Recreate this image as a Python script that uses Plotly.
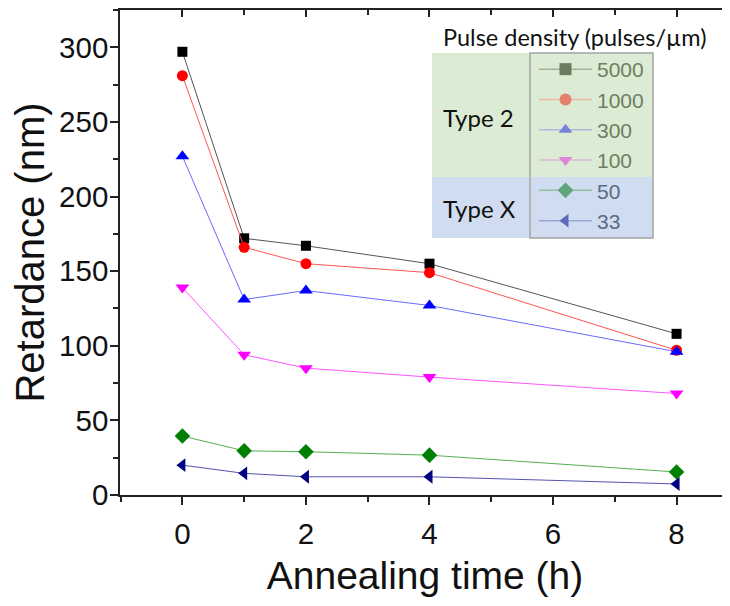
import plotly.graph_objects as go

# ---- data ----
time_h = [0, 1, 2, 4, 8]
densities = ["5000", "1000", "300", "100", "50", "33"]
retardance = {
    "5000": [297, 172, 167, 155, 108],
    "1000": [281, 166, 155, 149, 97],
    "300": [227, 131, 137, 127, 96],
    "100": [139, 94, 85, 79, 68],
    "50": [39.5, 29.6, 29, 26.7, 15.4],
    "33": [20, 14.5, 12.2, 12.2, 7.4],
}
group_labels = ["Type 2", "Type X"]
legend_title = "Pulse density (pulses/µm)"
x_title = "Annealing time (h)"
y_title = "Retardance (nm)"

# ---- styles ----
marker_sym = {"5000": "square", "1000": "circle", "300": "triangle-up",
              "100": "triangle-down", "50": "diamond", "33": "triangle-left"}
marker_size = {"5000": 10, "1000": 11, "300": 12, "100": 12, "50": 12, "33": 12}
mk_color = {"5000": "#000000", "1000": "#ff0000", "300": "#0000ff",
            "100": "#ff00ff", "50": "#008000", "33": "#000080"}
ln_color = {"5000": "#555555", "1000": "#ff5555", "300": "#6a6aff",
            "100": "#ff55ff", "50": "#55b055", "33": "#5555b0"}
lg_mk = {"5000": "#6b7d5e", "1000": "#e5806a", "300": "#7482d9",
         "100": "#de86d5", "50": "#5fa47a", "33": "#5e68bf"}
lg_ln = {"5000": "#a3b198", "1000": "#ebbaa5", "300": "#abb9df",
         "100": "#e3b6da", "50": "#90c2a2", "33": "#9aa4d7"}
lg_txt = {"5000": "#6f7e62", "1000": "#6f7e62", "300": "#6f7e62",
          "100": "#6f7e62", "50": "#5e6a7f", "33": "#5e6a7f"}

AX_FONT = "Liberation Sans, Arial, sans-serif"

fig = go.Figure()
for d in densities:
    fig.add_trace(go.Scatter(
        x=time_h, y=retardance[d], mode="lines+markers", showlegend=False,
        line=dict(color=ln_color[d], width=1),
        marker=dict(symbol=marker_sym[d], size=marker_size[d], color=mk_color[d]),
    ))
for d in densities:
    fig.add_trace(go.Scatter(
        x=[None], y=[None], mode="lines+markers",
        name=f"<span style='color:{lg_txt[d]}'>{d}</span>",
        line=dict(color=lg_ln[d], width=1.5),
        marker=dict(symbol=marker_sym[d], size=12, color=lg_mk[d]),
    ))
fig.add_trace(go.Scatter(x=[None], y=[None], xaxis="x2", showlegend=False))

# page has an 8px body margin: build figure 8px smaller and shift margins
OFF = 8
FW, FH = 730 - OFF, 606 - OFF
L, R, T, B = 120, 730, 10, 495          # plot area in page pixels
W, H = R - L, B - T
def px(xp):
    return (xp - L) / W
def py(yp):
    return (B - yp) / H

shapes = [
    dict(type="rect", xref="paper", yref="paper", x0=px(432), x1=px(653), y0=py(177), y1=py(53),
         fillcolor="#dcebd4", line=dict(width=0), layer="above"),
    dict(type="rect", xref="paper", yref="paper", x0=px(432), x1=px(653), y0=py(238), y1=py(177),
         fillcolor="#d0dcef", line=dict(width=0), layer="above"),
    dict(type="rect", xref="paper", yref="paper", x0=px(530), x1=px(653), y0=py(238), y1=py(53),
         fillcolor="rgba(0,0,0,0)", line=dict(width=1.5, color="#a4a4a4"), layer="above"),
]

annotations = [
    dict(text=legend_title, xref="paper", yref="paper", x=px(574), y=py(37),
         xanchor="center", yanchor="middle",
         showarrow=False, font=dict(family="Lato", size=23.5, color="#111111")),
    dict(text=group_labels[0], xref="paper", yref="paper", x=px(441), y=py(117),
         xanchor="left", yanchor="middle",
         showarrow=False, font=dict(family="Lato", size=24, color="#111111")),
    dict(text=group_labels[1], xref="paper", yref="paper", x=px(441), y=py(208),
         xanchor="left", yanchor="middle",
         showarrow=False, font=dict(family="Lato", size=24, color="#111111")),
]

fig.update_layout(
    width=FW, height=FH,
    margin=dict(l=L - OFF, r=730 - R, t=T - OFF, b=606 - B, autoexpand=False),
    paper_bgcolor="white", plot_bgcolor="white",
    font=dict(family=AX_FONT, color="#111111"),
    xaxis=dict(
        range=[-1.01, 8.865], dtick=2, tick0=0, showgrid=False, zeroline=False,
        showline=True, linecolor="#222222", linewidth=1.5,
        ticks="outside", ticklen=8, tickwidth=1.5, tickcolor="#222222",
        minor=dict(dtick=1, ticks="outside", ticklen=5, tickwidth=1.5, tickcolor="#222222"),
        tickfont=dict(size=29.5, family=AX_FONT, color="#111111"), ticklabelstandoff=4,
        title=dict(text=x_title, font=dict(size=39, family=AX_FONT, color="#111111"), standoff=13),
    ),
    xaxis2=dict(
        overlaying="x", side="top", range=[-1.01, 8.865], dtick=2, tick0=0,
        showgrid=False, zeroline=False, showline=True, linecolor="#222222", linewidth=1.5,
        ticks="inside", ticklen=7, tickwidth=1.5, tickcolor="#222222", showticklabels=False,
        minor=dict(dtick=1, ticks="inside", ticklen=5, tickwidth=1.5, tickcolor="#222222"),
    ),
    yaxis=dict(
        range=[0, 325], dtick=50, tick0=0, showgrid=False, zeroline=False,
        showline=True, linecolor="#222222", linewidth=1.5,
        ticks="outside", ticklen=8, tickwidth=1.5, tickcolor="#222222",
        minor=dict(dtick=25, ticks="outside", ticklen=5, tickwidth=1.5, tickcolor="#222222"),
        tickfont=dict(size=29.5, family=AX_FONT, color="#111111"), ticklabelstandoff=-4,
        title=dict(text=y_title, font=dict(size=40, family=AX_FONT, color="#111111"), standoff=20),
    ),
    legend=dict(
        x=px(534), y=py(49), xanchor="left", yanchor="top",
        bgcolor="rgba(0,0,0,0)", borderwidth=0, itemwidth=53,
        font=dict(size=21, family=AX_FONT), tracegroupgap=0,
        itemclick=False, itemdoubleclick=False,
    ),
    shapes=shapes, annotations=annotations,
)

fig.write_html("out.html")
